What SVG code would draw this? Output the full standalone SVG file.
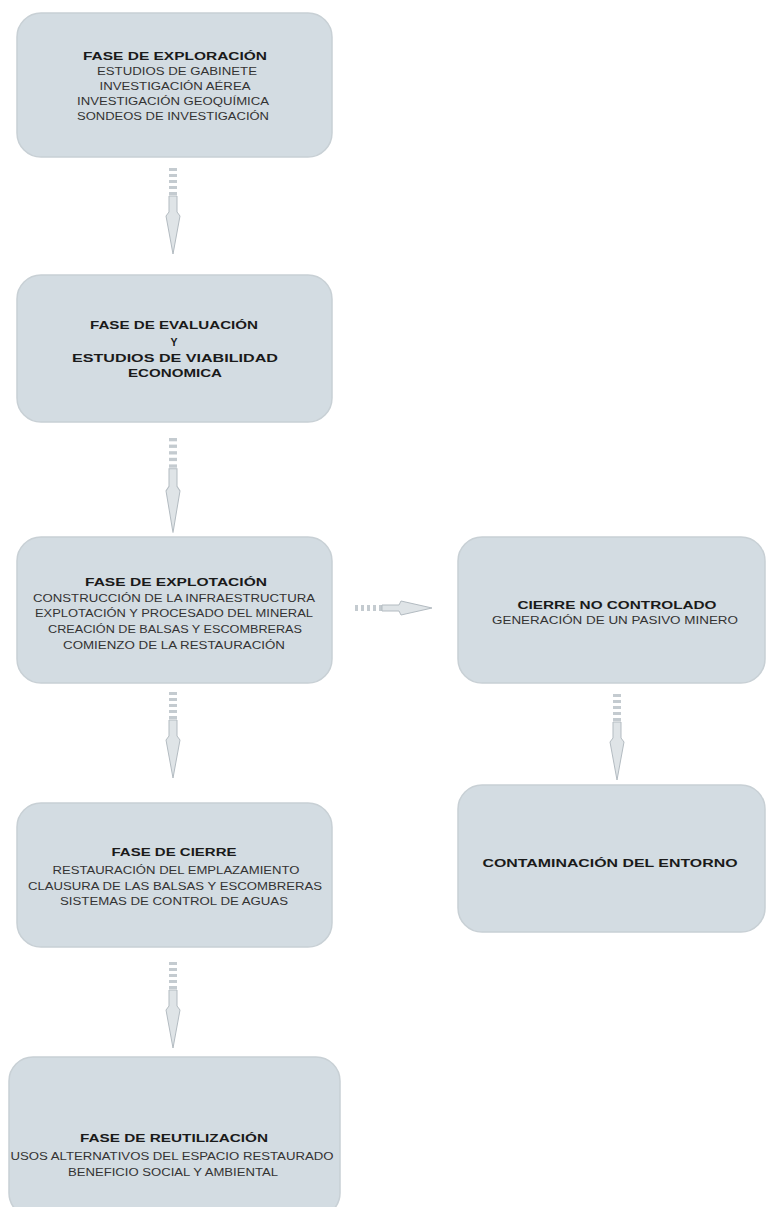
<svg xmlns="http://www.w3.org/2000/svg" width="767" height="1207" viewBox="0 0 767 1207">
<defs>
<style>
.box{fill:#d3dce2;stroke:#c8d0d5;stroke-width:1.5}
.t{font-family:"Liberation Sans",Arial,sans-serif;font-size:10.5px;font-weight:bold;fill:#1a1a1a;text-anchor:middle}
.l{font-family:"Liberation Sans",Arial,sans-serif;font-size:10px;fill:#333;text-anchor:middle}
.ar{fill:#dfe4e7;stroke:#b3bbc1;stroke-width:1}
.st{fill:#c4cbd0}
</style>
<g id="varrow">
<rect class="st" x="-4" y="0" width="8" height="3"/>
<rect class="st" x="-4" y="6" width="8" height="3"/>
<rect class="st" x="-4" y="12" width="8" height="3"/>
<rect class="st" x="-4" y="18" width="8" height="3"/>
<rect class="st" x="-4" y="24" width="8" height="3"/>
<path class="ar" d="M-4,28 L4,28 L4,44 L7,48 L0,86 L-7,48 L-4,44 Z"/>
</g>
</defs>
<rect width="767" height="1207" fill="#ffffff"/>
<g id="connectors">
<use href="#varrow" transform="translate(173,168)"/>
<use href="#varrow" transform="translate(173,438) scale(1,1.1)"/>
<use href="#varrow" transform="translate(173,692)"/>
<use href="#varrow" transform="translate(173,962)"/>
<use href="#varrow" transform="translate(617,694)"/>
<g transform="translate(355,608) rotate(-90)">
<rect class="st" x="-3" y="0" width="6" height="3"/>
<rect class="st" x="-3" y="6" width="6" height="3"/>
<rect class="st" x="-3" y="12" width="6" height="3"/>
<rect class="st" x="-3" y="18" width="6" height="3"/>
<rect class="st" x="-3" y="24" width="6" height="3"/>
<path class="ar" d="M-3,27 L3,27 L3,44 L7,46 L0,77 L-7,46 L-3,44 Z"/>
</g>
</g>
<g id="n1">
<rect class="box" x="17" y="13" width="315" height="144" rx="24"/>
<text class="t" x="175" y="60" textLength="184" lengthAdjust="spacingAndGlyphs">FASE DE EXPLORACIÓN</text>
<text class="l" x="177" y="75" textLength="160" lengthAdjust="spacingAndGlyphs">ESTUDIOS DE GABINETE</text>
<text class="l" x="175" y="90" textLength="151" lengthAdjust="spacingAndGlyphs">INVESTIGACIÓN AÉREA</text>
<text class="l" x="173" y="105" textLength="192" lengthAdjust="spacingAndGlyphs">INVESTIGACIÓN GEOQUÍMICA</text>
<text class="l" x="173" y="120" textLength="192" lengthAdjust="spacingAndGlyphs">SONDEOS DE INVESTIGACIÓN</text>
</g>
<g id="n2">
<rect class="box" x="17" y="275" width="315" height="147" rx="24"/>
<text class="t" x="174" y="329" textLength="168" lengthAdjust="spacingAndGlyphs">FASE DE EVALUACIÓN</text>
<text class="t" x="174" y="346">Y</text>
<text class="t" x="175" y="362" textLength="206" lengthAdjust="spacingAndGlyphs">ESTUDIOS DE VIABILIDAD</text>
<text class="t" x="175" y="377" textLength="94" lengthAdjust="spacingAndGlyphs">ECONOMICA</text>
</g>
<g id="n3">
<rect class="box" x="17" y="537" width="315" height="146" rx="24"/>
<text class="t" x="176" y="586" textLength="182" lengthAdjust="spacingAndGlyphs">FASE DE EXPLOTACIÓN</text>
<text class="l" x="174" y="602" textLength="282" lengthAdjust="spacingAndGlyphs">CONSTRUCCIÓN DE LA INFRAESTRUCTURA</text>
<text class="l" x="174" y="617" textLength="278" lengthAdjust="spacingAndGlyphs">EXPLOTACIÓN Y PROCESADO DEL MINERAL</text>
<text class="l" x="175" y="633" textLength="254" lengthAdjust="spacingAndGlyphs">CREACIÓN DE BALSAS Y ESCOMBRERAS</text>
<text class="l" x="174" y="649" textLength="222" lengthAdjust="spacingAndGlyphs">COMIENZO DE LA RESTAURACIÓN</text>
</g>
<g id="n4">
<rect class="box" x="458" y="537" width="307" height="146" rx="24"/>
<text class="t" x="617" y="609" textLength="199" lengthAdjust="spacingAndGlyphs">CIERRE NO CONTROLADO</text>
<text class="l" x="615" y="624" textLength="246" lengthAdjust="spacingAndGlyphs">GENERACIÓN DE UN PASIVO MINERO</text>
</g>
<g id="n5">
<rect class="box" x="17" y="803" width="315" height="144" rx="24"/>
<text class="t" x="174" y="856" textLength="125" lengthAdjust="spacingAndGlyphs">FASE DE CIERRE</text>
<text class="l" x="176" y="874" textLength="247" lengthAdjust="spacingAndGlyphs">RESTAURACIÓN DEL EMPLAZAMIENTO</text>
<text class="l" x="175" y="890" textLength="294" lengthAdjust="spacingAndGlyphs">CLAUSURA DE LAS BALSAS Y ESCOMBRERAS</text>
<text class="l" x="174" y="905" textLength="228" lengthAdjust="spacingAndGlyphs">SISTEMAS DE CONTROL DE AGUAS</text>
</g>
<g id="n6">
<rect class="box" x="458" y="785" width="307" height="147" rx="24"/>
<text class="t" x="610" y="867" textLength="255" lengthAdjust="spacingAndGlyphs">CONTAMINACIÓN DEL ENTORNO</text>
</g>
<g id="n7">
<rect class="box" x="9" y="1057" width="331" height="160" rx="24"/>
<text class="t" x="174" y="1142" textLength="188" lengthAdjust="spacingAndGlyphs">FASE DE REUTILIZACIÓN</text>
<text class="l" x="172" y="1160" textLength="323" lengthAdjust="spacingAndGlyphs">USOS ALTERNATIVOS DEL ESPACIO RESTAURADO</text>
<text class="l" x="173" y="1176" textLength="210" lengthAdjust="spacingAndGlyphs">BENEFICIO SOCIAL Y AMBIENTAL</text>
</g>
</svg>
